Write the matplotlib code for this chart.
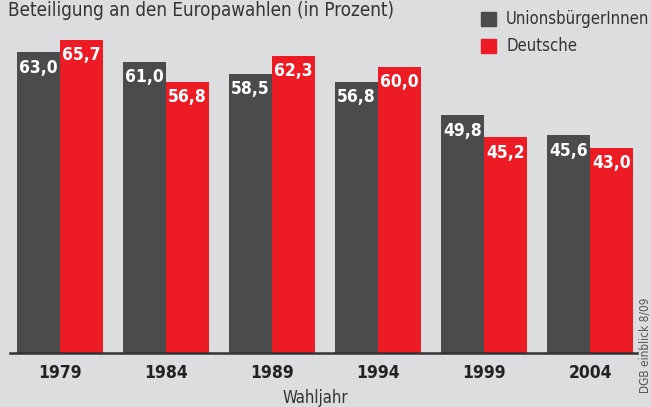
import numpy as np
import matplotlib.pyplot as plt
from matplotlib.patches import Rectangle

years = ["1979", "1984", "1989", "1994", "1999", "2004"]
eu_citizens = [63.0, 61.0, 58.5, 56.8, 49.8, 45.6]
germans = [65.7, 56.8, 62.3, 60.0, 45.2, 43.0]
series_names = ["UnionsbürgerInnen", "Deutsche"]

bg = "#dcdddf"
grey = "#4a4b4d"
red = "#ed1c24"
txt = "#333333"
cond = dict(family="DejaVu Sans", stretch="condensed")

fig = plt.figure(figsize=(6.51, 4.07), dpi=100, facecolor=bg)
ax = fig.add_axes([10 / 651, 54 / 407, 627 / 651, 353 / 407])
ax.set_facecolor(bg)

x = np.arange(len(years))
w = 0.406
b1 = ax.bar(x - w / 2, eu_citizens, w, color=grey)
b2 = ax.bar(x + w / 2, germans, w, color=red)

# value labels inside the bar tops
for bars, vals in ((b1, eu_citizens), (b2, germans)):
    for r, v in zip(bars, vals):
        ax.text(r.get_x() + r.get_width() / 2, v - 1.35, f"{v:.1f}".replace(".", ","),
                ha="center", va="top", color="white", fontsize=12.5,
                fontweight="bold", **cond)

ax.set_xlim(-0.472, 5.443)
ax.set_ylim(0, 74)
for s in ["top", "right", "left"]:
    ax.spines[s].set_visible(False)
ax.spines["bottom"].set_color("#333333")
ax.spines["bottom"].set_linewidth(1.8)
ax.set_yticks([])
ax.set_xticks(x)
ax.set_xticklabels(years, fontsize=12.5, fontweight="bold", color="#222222", **cond)
ax.tick_params(axis="x", length=0, pad=8)

fig.text(315.5 / 651, 1 - 398 / 407, "Wahljahr", ha="center", va="center",
         fontsize=12, color=txt, **cond)

fig.text(8 / 651, 1 - 0.5 / 407, "Beteiligung an den Europawahlen (in Prozent)",
         ha="left", va="top", fontsize=13.5, color=txt, **cond)

# legend
for i, (name, col) in enumerate(zip(series_names, [grey, red])):
    yc = 19 + i * 27
    fig.patches.append(Rectangle((481 / 651, 1 - (yc + 7) / 407), 15 / 651, 14 / 407,
                                 transform=fig.transFigure, color=col))
    fig.text(506 / 651, 1 - yc / 407, name, ha="left", va="center",
             fontsize=12, color=txt, **cond)

fig.text(644.5 / 651, 1 - 298 / 407, "DGB einblick 8/09", rotation=90,
         ha="center", va="top", fontsize=8.5, color="#555555", **cond)

fig.savefig("out.png", dpi=100, facecolor=bg)
